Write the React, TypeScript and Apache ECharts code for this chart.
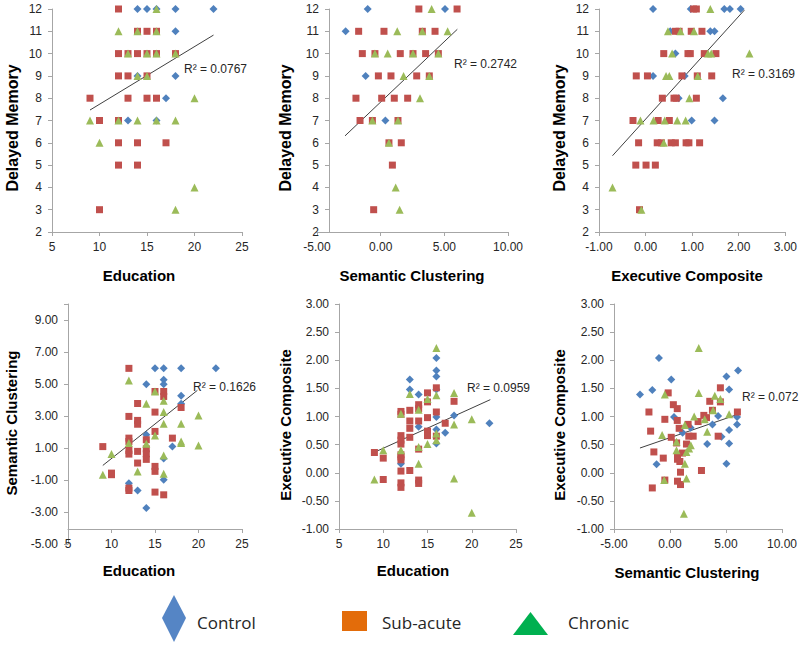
import React, { useEffect, useRef } from "react";
import * as echarts from "echarts";

// ---------- DATA ----------
const groups = ["Control", "Sub-acute", "Chronic"];

// Panel 1: Education vs Delayed Memory
const p1Control = [[14,12],[15,12],[16,12],[18,12],[22,12],[18,11],[14,9],[18,9],[17,8],[13,7],[16,7]];
const p1Sub = [[12,12],[14,11],[15,11],[16,11],[12,10],[13,10],[14,10],[15,10],[16,10],[18,10],[12,9],[13,9],[15,9],[9,8],[13,8],[15,8],[16,8],[10,7],[12,7],[12,6],[14,6],[17,6],[12,5],[14,5],[10,3]];
const p1Chronic = [[16,12],[12,11],[14,11],[16,11],[13,10],[15,10],[16,10],[18,10],[14,9],[15,9],[20,8],[9,7],[12,7],[14,7],[16,7],[18,7],[10,6],[20,4],[18,3]];
const p1Trend = [[9,7.47],[22,10.83]];

// Panel 2: Semantic Clustering vs Delayed Memory
const p2Control = [[-1.02,12],[5.05,12],[-2.75,11],[-1.18,9],[0.37,7]];
const p2Sub = [[3.0,12],[6.0,12],[-1.73,11],[0.26,11],[3.27,11],[4.27,11],[-1.44,10],[-0.45,10],[1.54,10],[2.54,10],[3.53,10],[4.53,10],[-0.18,9],[0.81,9],[2.83,9],[3.82,9],[-1.94,8],[0.08,8],[1.07,8],[2.12,8],[-1.62,7],[-0.65,7],[1.36,7],[0.65,6],[1.62,6],[0.92,5],[-0.55,3]];
const p2Chronic = [[4.0,12],[1.3,11],[3.27,11],[5.26,11],[-0.45,10],[0.55,10],[2.54,10],[4.53,10],[1.8,9],[3.82,9],[3.09,8],[-0.65,7],[1.36,7],[0.65,6],[1.18,4],[1.49,3]];
const p2Trend = [[-2.8,6.31],[6.02,11.09]];

// Panel 3: Executive Composite vs Delayed Memory
const p3Control = [[0.16,12],[0.97,12],[1.69,12],[1.81,12],[2.04,12],[0.53,11],[1.39,11],[1.48,11],[0.64,10],[0.16,9],[0.84,9],[0.71,8],[1.66,8],[0.99,7],[1.48,7]];
const p3Sub = [[1.03,12],[1.09,12],[0.64,11],[0.72,11],[0.98,11],[1.21,11],[0.39,10],[0.91,10],[0.96,10],[1.26,10],[1.51,10],[-0.2,9],[0.04,9],[0.78,9],[1.11,9],[1.42,9],[0.36,8],[0.61,8],[0.66,8],[1.09,8],[-0.27,7],[0.27,7],[0.51,7],[-0.15,6],[0.25,6],[0.34,6],[0.55,6],[0.64,6],[0.87,6],[0.93,6],[1.16,6],[-0.21,5],[0.01,5],[0.21,5],[-0.13,3]];
const p3Chronic = [[1.39,12],[0.48,11],[0.75,11],[1.04,11],[0.57,10],[1.34,10],[1.41,10],[2.23,10],[0.44,9],[0.51,9],[1.12,9],[0.94,8],[-0.11,7],[0.17,7],[0.41,7],[0.68,7],[0.86,7],[0.39,6],[-0.71,4],[-0.09,3]];
const p3Trend = [[-0.71,5.42],[2.12,11.95]];

// Panel 4: Education vs Semantic Clustering
const p4Control = [[15,6],[16,6],[18,6],[22,6],[14,5],[16,5.28],[16,5],[18,4.28],[18,3.78],[14,1.84],[17,1.1],[16,0.36],[12,-1.19],[16,-0.98],[13,-1.65],[14,-2.75]];
const p4Sub = [[12,6],[15,4.55],[16,4.55],[16,4.24],[13,3.8],[12,2.99],[13,2.74],[13,2.5],[15,3.26],[18,3.55],[15,2.05],[17,1.63],[12,1.63],[12,1.42],[14,1.53],[9,1.1],[12,0.86],[12,0.63],[13,0.8],[14,0.96],[14,0.65],[14,0.3],[13,0.07],[15,-0.14],[15,-0.45],[10,-0.56],[10,-0.66],[12,-1.5],[12,-1.65],[15,-1.75],[16,-1.92]];
const p4Chronic = [[12,5.24],[15,4.55],[14,3.78],[16,3.97],[16,3.26],[16,2.53],[18,2.53],[20,3.05],[15,1.8],[14,1.28],[12,1.32],[18,1.42],[18,1.32],[20,1.17],[10,0.63],[16,0.55],[9,-0.66],[13,-0.46],[16,-0.6]];
const p4Trend = [[9,-0.08],[19.87,4.62]];

// Panel 5: Education vs Executive Composite
const p5Control = [[13,1.66],[13,1.48],[14,1.39],[16,2.04],[16,1.82],[16,1.71],[16,1.48],[16,0.99],[14,0.82],[18,1.02],[17,0.71],[22,0.88],[16,0.77],[16,0.52],[12,0.16]];
const p5Sub = [[9,0.36],[10,0.26],[10,-0.12],[12,1.09],[12,1.04],[12,0.66],[12,0.58],[12,0.51],[12,0.32],[12,0.28],[12,0.23],[12,0.03],[12,-0.18],[12,-0.26],[13,1.11],[13,0.92],[13,0.79],[13,0.63],[13,0.04],[14,1.21],[14,1.14],[14,0.92],[14,0.42],[14,-0.13],[14,-0.19],[15,1.42],[15,1.26],[15,0.98],[15,0.74],[15,0.66],[16,1.51],[16,1.08],[16,0.65],[17,0.88],[18,1.27]];
const p5Chronic = [[9,-0.12],[10,0.4],[12,1.05],[12,0.4],[13,1.4],[14,1.12],[14,0.46],[14,0.16],[15,1.31],[15,0.51],[16,2.22],[16,1.38],[16,0.7],[16,0.58],[18,1.42],[18,0.86],[18,-0.1],[20,0.95],[20,-0.71]];
const p5Trend = [[9.08,0.37],[22.1,1.3]];

// Panel 6: Semantic Clustering vs Executive Composite
const p6Control = [[-2.68,1.39],[-1.58,1.47],[-0.99,2.04],[0.11,1.66],[0.36,0.99],[-1.2,0.15],[1.13,0.71],[1.84,0.8],[3.79,0.86],[4.3,1.01],[5.04,1.71],[5.28,1.48],[6.08,1.82],[5.99,0.99],[5.99,0.86],[5.28,0.76],[5.28,0.52],[3.32,0.51],[5.04,0.16],[4.6,0.64]];
const p6Sub = [[-1.88,1.08],[-1.73,0.74],[-1.44,0.37],[-1.58,-0.27],[-0.46,0.95],[-0.6,0.26],[-0.16,1.42],[0.3,1.21],[0.65,1.14],[0.65,0.93],[0.11,0.63],[0.82,0.79],[0.59,0.53],[0.67,0.31],[0.67,0.24],[1.12,0.35],[0.88,0.2],[0.94,0.01],[0.67,-0.15],[0.94,-0.21],[1.47,0.51],[1.68,0.65],[2.07,0.65],[1.62,0.86],[2.51,0.91],[3.02,1.02],[3.26,0.98],[3.55,1.27],[3.79,1.11],[4.5,1.51],[4.5,1.26],[4.3,0.65],[2.81,0.04],[6.02,1.08],[-0.46,-0.13]];
const p6Chronic = [[-0.46,1.39],[-0.7,0.67],[-0.52,-0.13],[0.58,0.55],[0.58,0.4],[1.33,0.85],[1.33,0.16],[1.47,-0.1],[1.24,-0.73],[1.71,0.43],[1.86,0.49],[2.16,1.0],[2.57,2.22],[2.57,1.42],[3.1,0.95],[3.32,0.73],[3.85,1.11],[4.0,1.37],[4.5,1.31],[5.28,1.04],[1.47,0.37]];
const p6Trend = [[-2.68,0.44],[6.08,1.04]];

const r2Labels = ["R² = 0.0767", "R² = 0.2742", "R² = 0.3169", "R² = 0.1626", "R² = 0.0959", "R² = 0.072"];
const xTitles = ["Education", "Semantic Clustering", "Executive Composite", "Education", "Education", "Semantic Clustering"];
const yTitles = ["Delayed Memory", "Delayed Memory", "Delayed Memory", "Semantic Clustering", "Executive Composite", "Executive Composite"];

// ---------- STYLE / LAYOUT ----------
const FONT = "'Liberation Sans', Arial, sans-serif";
const COLORS = ["#4F81BD", "#C0504D", "#9BBB59"];
const SYMBOLS = ["diamond", "rect", "triangle"];
const SIZES = [8, 7, 8];

const panels = [
  { grid: { left: 52, top: 9, width: 190, height: 223 }, x: [5, 25, 5, 0], y: [2, 12, 1, 0], data: [p1Control, p1Sub, p1Chronic], trend: p1Trend, r2: [184, 69], xt: [139, 275], yt: [12, 128], yOff: 0, xOff: 0, dfs: 16 },
  { grid: { left: 317, top: 9, width: 191, height: 223 }, x: [-5, 10, 5, 2], y: [2, 12, 1, 0], data: [p2Control, p2Sub, p2Chronic], trend: p2Trend, r2: [454, 64], xt: [412, 275], yt: [285, 128], yOff: -12, xOff: 0, dfs: 16 },
  { grid: { left: 599, top: 9, width: 187, height: 223 }, x: [-1, 3, 1, 2], y: [2, 12, 1, 0], data: [p3Control, p3Sub, p3Chronic], trend: p3Trend, r2: [732, 74], xt: [687, 275], yt: [559, 128], yOff: 0, xOff: 0, dfs: 16 },
  { grid: { left: 68, top: 304, width: 174, height: 240 }, x: [5, 25, 5, 0], y: [-5, 10.03, 2, 2], data: [p4Control, p4Sub, p4Chronic], trend: p4Trend, r2: [193, 387], xt: [139, 570], yt: [11, 423], yOff: 0, xOff: -15, dfs: 15 },
  { grid: { left: 339, top: 304, width: 177, height: 225 }, x: [5, 25, 5, 0], y: [-1, 3, 0.5, 2], data: [p5Control, p5Sub, p5Chronic], trend: p5Trend, r2: [467, 388], xt: [413, 570], yt: [285, 425], yOff: 0, xOff: 0, dfs: 15 },
  { grid: { left: 614, top: 304, width: 168, height: 225 }, x: [-5, 10, 5, 2], y: [-1, 3, 0.5, 2], data: [p6Control, p6Sub, p6Chronic], trend: p6Trend, r2: [742, 397], xt: [687, 572], yt: [559, 425], yOff: 0, xOff: 0, dfs: 15 },
];

function makeFormatter(min: number, interval: number, dec: number) {
  return (v: number) => {
    const k = (v - min) / interval;
    if (Math.abs(k - Math.round(k)) > 1e-6) return "";
    return v.toFixed(dec);
  };
}

function buildOption() {
  const axisLine = { show: true, onZero: false, lineStyle: { color: "#A6A6A6", width: 1 } };
  const axisTick = { show: true, length: 4, inside: false, lineStyle: { color: "#A6A6A6" } };
  const labelStyle = { fontFamily: FONT, fontSize: 12, color: "#262626" };

  const grid: any[] = [];
  const xAxis: any[] = [];
  const yAxis: any[] = [];
  const series: any[] = [];
  const graphic: any[] = [];

  panels.forEach((p, i) => {
    grid.push({ ...p.grid, containLabel: false });
    xAxis.push({
      type: "value", gridIndex: i, min: p.x[0], max: p.x[1], interval: p.x[2], offset: p.xOff,
      axisLine, axisTick, splitLine: { show: false },
      axisLabel: { ...labelStyle, margin: 9, formatter: makeFormatter(p.x[0], p.x[2], p.x[3]) },
    });
    yAxis.push({
      type: "value", gridIndex: i, min: p.y[0], max: p.y[1], interval: p.y[2], offset: p.yOff,
      axisLine, axisTick, splitLine: { show: false },
      axisLabel: { ...labelStyle, margin: 10, formatter: makeFormatter(p.y[0], p.y[2], p.y[3]) },
    });
    p.data.forEach((d, g) => {
      series.push({
        type: "scatter", name: groups[g], xAxisIndex: i, yAxisIndex: i, data: d,
        symbol: SYMBOLS[g], symbolSize: SIZES[g],
        itemStyle: { color: COLORS[g], opacity: 1 }, silent: true,
      });
    });
    series.push({
      type: "line", xAxisIndex: i, yAxisIndex: i, data: p.trend, symbol: "none",
      lineStyle: { color: "#404040", width: 1 }, silent: true, z: 1,
    });
    graphic.push({
      type: "text", x: p.r2[0], y: p.r2[1],
      style: { text: r2Labels[i], fontFamily: FONT, fontSize: 12, fill: "#262626", textAlign: "left", textVerticalAlign: "middle", align: "left", verticalAlign: "middle" },
    });
    graphic.push({
      type: "text", x: p.xt[0], y: p.xt[1],
      style: { text: xTitles[i], fontFamily: FONT, fontSize: 15, fontWeight: "bold", fill: "#000", textAlign: "center", textVerticalAlign: "middle", align: "center", verticalAlign: "middle" },
    });
    graphic.push({
      type: "text", x: p.yt[0], y: p.yt[1], rotation: Math.PI / 2,
      style: { text: yTitles[i], fontFamily: FONT, fontSize: p.dfs, fontWeight: "bold", fill: "#000", textAlign: "center", textVerticalAlign: "middle", align: "center", verticalAlign: "middle" },
    });
  });

  // Legend drawn as graphic shapes
  const legFont = "'Open Sans', 'Liberation Sans', sans-serif";
  graphic.push({ type: "polygon", shape: { points: [[174, 595], [186, 618], [174, 642], [162, 618]] }, style: { fill: "#5585C5" } });
  graphic.push({ type: "text", x: 197, y: 622, style: { text: groups[0], fontFamily: legFont, fontSize: 17, fill: "#262626", textVerticalAlign: "middle", verticalAlign: "middle" } });
  graphic.push({ type: "rect", shape: { x: 342, y: 611, width: 25, height: 20 }, style: { fill: "#E36C0A" } });
  graphic.push({ type: "text", x: 382, y: 622, style: { text: groups[1], fontFamily: legFont, fontSize: 17, fill: "#262626", textVerticalAlign: "middle", verticalAlign: "middle" } });
  graphic.push({ type: "polygon", shape: { points: [[530.5, 612], [548, 635], [513, 635]] }, style: { fill: "#00B050" } });
  graphic.push({ type: "text", x: 568, y: 622, style: { text: groups[2], fontFamily: legFont, fontSize: 17, fill: "#262626", textVerticalAlign: "middle", verticalAlign: "middle" } });

  return {
    animation: false,
    backgroundColor: "#ffffff",
    grid, xAxis, yAxis, series, graphic,
  };
}

export default function App() {
  const ref = useRef<HTMLDivElement>(null);
  useEffect(() => {
    document.body.style.margin = "0";
    if (!ref.current) return;
    const chart = echarts.init(ref.current, null, { renderer: "svg" });
    chart.setOption(buildOption() as any);
    return () => chart.dispose();
  }, []);
  return <div ref={ref} style={{ width: 800, height: 645 }} />;
}
